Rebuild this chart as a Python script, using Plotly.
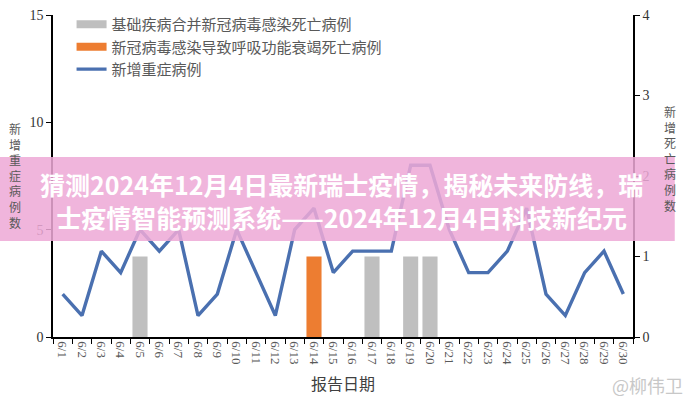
import plotly.graph_objects as go

dates = [f"6/{d}" for d in range(1, 31)]
severe_cases = [2, 1, 4, 3, 5, 4, 5, 1, 2, 5, 3, 1, 5, 6, 3, 4, 4, 4, 8, 8, 5, 3, 3, 4, 6, 2, 1, 3, 4, 2]
comorbid_deaths = [0, 0, 0, 0, 1, 0, 0, 0, 0, 0, 0, 0, 0, 0, 0, 0, 1, 0, 1, 1, 0, 0, 0, 0, 0, 0, 0, 0, 0, 0]
resp_deaths = [0, 0, 0, 0, 0, 0, 0, 0, 0, 0, 0, 0, 0, 1, 0, 0, 0, 0, 0, 0, 0, 0, 0, 0, 0, 0, 0, 0, 0, 0]

name_gray = "基础疾病合并新冠病毒感染死亡病例"
name_orange = "新冠病毒感染导致呼吸功能衰竭死亡病例"
name_line = "新增重症病例"

GRAY = "#BFBFBF"
ORANGE = "#ED7D31"
BLUE = "#4A70B0"
SERIF = "Liberation Serif, Noto Sans CJK SC"

fig = go.Figure()
fig.add_trace(go.Bar(x=dates, y=comorbid_deaths, yaxis="y2", marker_color=GRAY,
                     marker_line_width=0, width=0.78, showlegend=False))
fig.add_trace(go.Bar(x=dates, y=resp_deaths, yaxis="y2", marker_color=ORANGE,
                     marker_line_width=0, width=0.78, showlegend=False))
fig.add_trace(go.Scatter(x=dates, y=severe_cases, mode="lines",
                         line=dict(color=BLUE, width=3.4), showlegend=False))
# legend entries
fig.add_trace(go.Scatter(x=[None], y=[None], mode="lines", name=name_gray,
                         line=dict(color=GRAY, width=8), legendgroup="a"))
fig.add_trace(go.Scatter(x=[None], y=[None], mode="lines", name=name_orange,
                         line=dict(color=ORANGE, width=8), legendgroup="b"))
fig.add_trace(go.Scatter(x=[None], y=[None], mode="lines", name=name_line,
                         line=dict(color=BLUE, width=3.4), legendgroup="c"))

fig.update_layout(
    width=684, height=400,
    margin=dict(l=53, r=51, t=15, b=63, autoexpand=False),
    paper_bgcolor="white", plot_bgcolor="white",
    barmode="overlay",
    font=dict(family=SERIF, color="#404040"),
    legend=dict(x=0.032, y=1.022, xanchor="left", yanchor="top",
                bgcolor="rgba(0,0,0,0)", font=dict(size=15, color="#595959", family=SERIF),
                traceorder="grouped", tracegroupgap=0, itemwidth=30),
    xaxis=dict(type="category", range=[-0.5, 29.5], showline=True, linecolor="black",
               linewidth=1.5, ticks="outside", ticklen=5, tickcolor="black",
               tickson="boundaries", tickangle=90, tickfont=dict(size=13, color="#595959", family=SERIF),
               showgrid=False, zeroline=False),
    yaxis=dict(range=[0, 15], tickvals=[0, 5, 10, 15], showline=True, linecolor="black",
               linewidth=1.5, ticks="outside", ticklen=5, tickcolor="black",
               tickfont=dict(size=14, color="#333333", family=SERIF),
               showgrid=False, zeroline=False),
    yaxis2=dict(range=[0, 4], tickvals=[0, 1, 2, 3, 4], overlaying="y", side="right",
                showline=True, linecolor="black", linewidth=1.5, ticks="outside",
                ticklen=5, tickcolor="black",
                tickfont=dict(size=14, color="#333333", family=SERIF),
                showgrid=False, zeroline=False),
)

# axis titles
fig.add_annotation(text="<br>".join("新增重症病例数"), xref="paper", yref="paper",
                   x=-0.0655, y=0.50, showarrow=False, xanchor="center", yanchor="middle",
                   font=dict(size=12, color="#595959", family=SERIF))
fig.add_annotation(text="<br>".join("新增死亡病例数"), xref="paper", yref="paper",
                   x=1.0638, y=0.55, showarrow=False, xanchor="center", yanchor="middle",
                   font=dict(size=12, color="#595959", family=SERIF))
fig.add_annotation(text="报告日期", xref="paper", yref="paper", x=0.5, y=-0.149,
                   showarrow=False, xanchor="center", yanchor="middle",
                   font=dict(size=16, color="#404040", family=SERIF))

# pink banner overlay
fig.add_shape(type="rect", xref="paper", yref="paper", x0=-0.0914, x1=1.072,
              y0=0.298, y1=0.559, fillcolor="rgba(237,169,214,0.86)", line_width=0,
              layer="above")
fig.add_annotation(text="<b>猜测2024年12月4日最新瑞士疫情，揭秘未来防线，瑞</b><br>"
                        "<b>士疫情智能预测系统——2024年12月4日科技新纪元</b>",
                   xref="paper", yref="paper", x=0.4966, y=0.424, showarrow=False,
                   xanchor="center", yanchor="middle", align="center",
                   font=dict(size=25, color="white", family="Noto Sans CJK SC"))
# watermark
fig.add_annotation(text="@柳伟卫", xref="paper", yref="paper", x=1.09, y=-0.15,
                   showarrow=False, xanchor="right", yanchor="middle",
                   font=dict(size=18, color="#C8C8C8", family="Noto Sans CJK SC"))

fig.write_html("out.html")
